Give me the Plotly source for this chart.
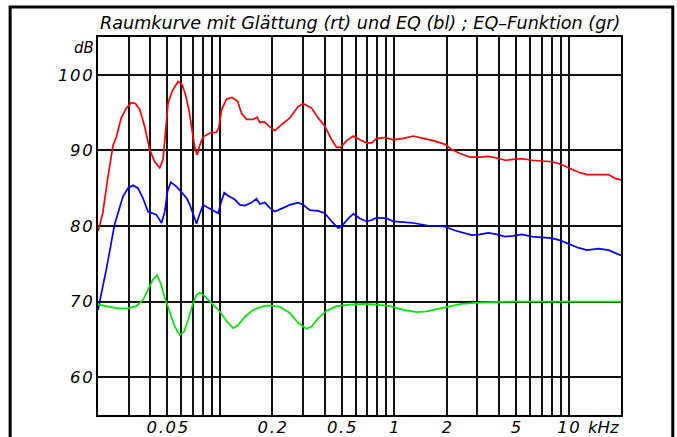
import math
import plotly.graph_objects as go

# ---------------- data ----------------
red_f = [0.0200, 0.0213, 0.0228, 0.0244, 0.0255, 0.0272, 0.0291, 0.0311, 0.0328, 0.0347,
         0.0370, 0.0396, 0.0423, 0.0452, 0.0472, 0.0488, 0.0505, 0.0532, 0.0576, 0.0607,
         0.0635, 0.0664, 0.0694, 0.0719, 0.0741, 0.0768, 0.0802, 0.0877, 0.0957, 0.0987,
         0.1023, 0.1093, 0.1177, 0.1264, 0.1332, 0.1424, 0.1552, 0.1636, 0.1696, 0.1794,
         0.1892, 0.2067, 0.2258, 0.252, 0.281, 0.300, 0.336, 0.366, 0.400, 0.438,
         0.468, 0.493, 0.534, 0.583, 0.637, 0.695, 0.743, 0.794, 0.886, 0.989,
         1.129, 1.289, 1.470, 1.677, 1.958, 2.140, 2.388, 2.724, 3.04, 3.47,
         3.88, 4.33, 4.83, 5.40, 6.17, 7.04, 8.03, 8.96, 10.0, 11.43,
         12.77, 13.92, 15.21, 16.97, 18.54, 20.0]
red_db = [79.3, 81.7, 86.5, 90.7, 91.8, 94.3, 95.6, 96.3, 96.2, 95.4,
          93.2, 90.1, 88.5, 87.7, 88.8, 92.3, 96.3, 97.8, 99.1, 98.7,
          97.4, 95.4, 92.5, 90.3, 89.4, 90.7, 91.8, 92.3, 92.4, 93.0,
          95.4, 96.8, 97.0, 96.5, 94.9, 94.1, 94.1, 94.4, 93.7, 93.8,
          93.3, 92.6, 93.4, 94.3, 95.8, 96.2, 95.6, 94.3, 93.2, 91.4,
          90.4, 90.4, 91.3, 91.9, 91.4, 91.0, 91.0, 91.6, 91.7, 91.4,
          91.6, 91.9, 91.6, 91.3, 90.8, 90.1, 89.6, 89.1, 89.1, 89.2,
          89.0, 88.7, 88.8, 88.9, 88.7, 88.6, 88.5, 88.2, 87.7, 87.1,
          86.8, 86.8, 86.9, 86.8, 86.3, 86.1]

blue_f = [0.0200, 0.0204, 0.0213, 0.0223, 0.0233, 0.0249, 0.0266, 0.0278, 0.0297, 0.0318,
          0.0339, 0.0362, 0.0387, 0.0405, 0.0432, 0.0463, 0.0483, 0.0501, 0.0523, 0.0564,
          0.0607, 0.0644, 0.0673, 0.0703, 0.0735, 0.0758, 0.0802, 0.0857, 0.0936, 0.0978,
          0.1013, 0.1059, 0.1116, 0.1219, 0.1303, 0.1392, 0.1519, 0.1623, 0.1696, 0.1811,
          0.1935, 0.2067, 0.2307, 0.252, 0.281, 0.300, 0.328, 0.366, 0.400, 0.438,
          0.478, 0.500, 0.546, 0.583, 0.637, 0.695, 0.743, 0.794, 0.906, 0.989,
          1.129, 1.289, 1.439, 1.606, 1.833, 1.958, 2.235, 2.494, 2.786, 3.108,
          3.47, 3.88, 4.33, 4.83, 5.40, 6.17, 7.04, 8.03, 8.96, 10.0,
          11.43, 12.77, 14.87, 16.97, 18.54, 20.0]
blue_db = [68.9, 70.0, 72.0, 74.2, 76.6, 80.2, 82.4, 83.9, 85.0, 85.4,
           85.0, 83.7, 81.9, 81.7, 81.5, 80.4, 81.9, 84.6, 85.8, 85.2,
           84.4, 83.7, 82.8, 81.5, 80.3, 81.3, 82.8, 82.4, 81.9, 81.7,
           83.0, 84.4, 84.0, 83.5, 82.8, 82.7, 83.1, 83.6, 82.9, 83.1,
           82.4, 81.9, 82.4, 82.8, 83.1, 82.8, 82.1, 82.0, 81.7, 80.6,
           79.7, 80.0, 81.0, 81.6, 81.0, 80.6, 80.8, 81.1, 81.0, 80.6,
           80.5, 80.4, 80.2, 80.0, 80.0, 79.9, 79.4, 79.1, 78.8, 78.9,
           79.1, 78.9, 78.6, 78.7, 78.9, 78.6, 78.5, 78.4, 78.1, 77.6,
           77.1, 76.8, 77.0, 76.8, 76.4, 76.1]

green_f = [0.0200, 0.0228, 0.0260, 0.0297, 0.0332, 0.0362, 0.0387, 0.0413, 0.0436, 0.0458,
           0.0483, 0.0516, 0.0551, 0.0589, 0.0623, 0.0658, 0.0703, 0.0735, 0.0768, 0.0820,
           0.0896, 0.1000, 0.1093, 0.1192, 0.1274, 0.1392, 0.1552, 0.1771, 0.1935, 0.2208,
           0.252, 0.281, 0.314, 0.336, 0.366, 0.410, 0.468, 0.558, 0.665, 0.794,
           0.947, 1.129, 1.348, 1.537, 1.754, 2.092, 2.442, 3.18, 4.73, 20.0]
green_db = [69.6, 69.4, 69.1, 69.1, 69.4, 70.2, 71.6, 72.9, 73.5, 72.4,
            70.5, 68.5, 66.7, 65.6, 66.0, 67.6, 69.8, 70.9, 71.2, 70.7,
            69.8, 68.7, 67.4, 66.5, 66.9, 68.0, 68.9, 69.4, 69.5, 69.3,
            68.5, 67.2, 66.4, 66.7, 67.8, 68.8, 69.4, 69.6, 69.7, 69.6,
            69.4, 68.9, 68.6, 68.7, 69.0, 69.4, 69.7, 69.9, 70.0, 70.0]

x_grid = [0.02, 0.03, 0.04, 0.05, 0.06, 0.07, 0.08, 0.09,
          0.1, 0.2, 0.3, 0.4, 0.5, 0.6, 0.7, 0.8, 0.9,
          1, 2, 3, 4, 5, 6, 7, 8, 9, 10, 20]
x_labels = {0.05: "0.05", 0.2: "0.2", 0.5: "0.5", 1: "1", 2: "2", 5: "5", 10: "10"}
y_ticks = [60, 70, 80, 90, 100]
title_text = "Raumkurve mit Glättung (rt) und EQ (bl) ; EQ\u2013Funktion (gr)"

HS = "\u200a"  # hair space for wide letter spacing


def spaced(s):
    return HS.join(list(s))


fig = go.Figure()
fig.add_trace(go.Scatter(x=red_f, y=red_db, mode="lines",
                         line=dict(color="#ff0000", width=1.7), hoverinfo="skip"))
fig.add_trace(go.Scatter(x=blue_f, y=blue_db, mode="lines",
                         line=dict(color="#0000ff", width=1.7), hoverinfo="skip"))
fig.add_trace(go.Scatter(x=green_f, y=green_db, mode="lines",
                         line=dict(color="#00e600", width=1.7), hoverinfo="skip"))

tickfont = dict(family="DejaVu Sans", size=16.5, color="black", style="italic")

fig.update_layout(
    template="none",
    width=677, height=437, autosize=False,
    margin=dict(l=98, r=56, t=37, b=22, pad=0),
    plot_bgcolor="white", paper_bgcolor="white",
    showlegend=False,
    font=dict(family="DejaVu Sans", color="black"),
    xaxis=dict(
        type="log", range=[math.log10(0.02), math.log10(20)],
        tickmode="array", tickvals=x_grid,
        ticktext=[spaced(x_labels.get(v, "")) for v in x_grid],
        showgrid=True, gridcolor="#111111", gridwidth=1.5,
        showline=True, linecolor="black", linewidth=2, mirror=True,
        ticks="", zeroline=False, automargin=False, tickfont=tickfont,
        ticklabelstandoff=-4,
    ),
    yaxis=dict(
        range=[55, 105],
        tickmode="array", tickvals=y_ticks,
        ticktext=[spaced(str(v)) for v in y_ticks],
        showgrid=True, gridcolor="#111111", gridwidth=1.5,
        showline=True, linecolor="black", linewidth=2, mirror=True,
        ticks="", zeroline=False, automargin=False, tickfont=tickfont,
    ),
    shapes=[dict(type="rect", xref="paper", yref="paper",
                 x0=-0.168, x1=1.099, y0=-0.12, y1=1.0794,
                 line=dict(color="black", width=3), fillcolor="rgba(0,0,0,0)",
                 layer="above")],
    annotations=[
        dict(text=title_text, xref="paper", yref="paper", x=0.501, y=1.037,
             xanchor="center", yanchor="middle", showarrow=False,
             font=dict(family="DejaVu Sans", size=17.6, color="black", style="italic")),
        dict(text="dB", xref="paper", yref="paper", x=-0.003, y=0.972,
             xanchor="right", yanchor="middle", showarrow=False,
             font=dict(family="DejaVu Sans", size=15, color="black", style="italic")),
        dict(text="kHz", xref="paper", yref="paper", x=0.934, y=-0.032,
             xanchor="left", yanchor="middle", showarrow=False,
             font=dict(family="DejaVu Sans", size=16.5, color="black", style="italic")),
    ],
)

fig.write_html("out.html", config={"displayModeBar": False},
               post_script="document.body.style.margin='0';document.body.style.overflow='hidden';")
